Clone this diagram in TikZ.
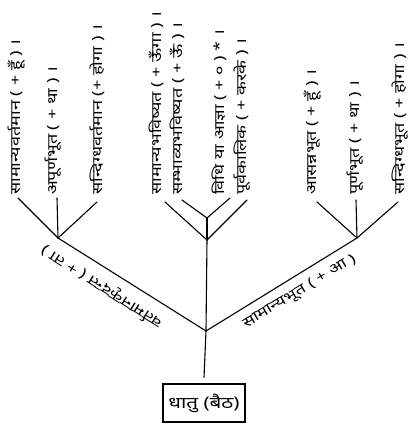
\documentclass[tikz,border=0pt]{standalone}
\usepackage{fontspec}
\newfontfamily\dev[Script=Devanagari, FakeStretch=1.29]{Noto Sans}
\begin{document}
\begin{tikzpicture}[x=1pt,y=-1pt,
  ln/.style={line width=1.1pt, line cap=round},
  vlab/.style={font=\dev\fontsize{14}{16}\selectfont, rotate=90, anchor=west, inner sep=0pt},
  dlab/.style={font=\dev\fontsize{14}{16}\selectfont, inner sep=0pt},
  rootbox/.style={draw, line width=1.2pt, minimum width=82pt, minimum height=38pt, inner sep=0pt, font=\dev\fontsize{16}{18}\selectfont}]
\useasboundingbox (0,0) rectangle (412,424);
% junctions
\coordinate (R) at (206,331);
\coordinate (L) at (58,238);
\coordinate (M) at (207,240);
\coordinate (MI) at (207,218);
\coordinate (Rt) at (357,238);
% line ends
\coordinate (l1) at (18,198);
\coordinate (l2) at (57,198);
\coordinate (l3) at (97,202);
\coordinate (m1) at (165,202);
\coordinate (m2) at (182,200);
\coordinate (m3) at (230,198);
\coordinate (m4) at (247,200);
\coordinate (r1) at (317,202);
\coordinate (r2) at (356,200);
\coordinate (r3) at (398,202);
% root box
\node[rootbox] (box) at (204,403) {धातु (बैठ)};
% texts
\node[vlab] (tl1) at (17,195) {सामान्यवर्तमान ( + हूँ ) ।};
\node[vlab] (tl2) at (53,195) {अपूर्णभूत ( + था ) ।};
\node[vlab] (tl3) at (97,195) {सन्दिग्धवर्तमान (+ होगा ) ।};
\node[vlab] (tm1) at (156,195) {सामान्यभविष्यत ( + ऊँगा ) ।};
\node[vlab] (tm2) at (177,195) {सम्भाव्यभविष्यत ( + ऊँ ) ।};
\node[vlab] (tm3) at (219,195) {विधि या आज्ञा ( + ० ) * ।};
\node[vlab] (tm4) at (242,195) {पूर्वकालिक ( + करके ) ।};
\node[vlab] (tr1) at (313,195) {आसन्नभूत ( + हूँ ) ।};
\node[vlab] (tr2) at (355,195) {पूर्णभूत ( + था ) ।};
\node[vlab] (tr3) at (400,195) {सन्दिग्धभूत ( + होगा ) ।};
% diagonal labels
\node[dlab, rotate=147.6] (dl) at (102,287) {वर्तमानकृदन्त ( + ता )};
\node[dlab, rotate=31] (dr) at (300,292) {सामान्यभूत ( + आ )};
% connectors
\path (box.north) ++(0,-6) coordinate (bt);
\draw[ln] (bt) -- (R);
\draw[ln] (R) -- (L);
\draw[ln] (R) -- (M);
\draw[ln] (R) -- (Rt);
\draw[ln] (L) -- (l1);
\draw[ln] (L) -- (l2);
\draw[ln] (L) -- (l3);
\draw[ln] (M) -- (m1);
\draw[ln] (M) -- (m4);
\draw[ln] (M) -- (MI);
\draw[ln] (MI) -- (m2);
\draw[ln] (MI) -- (m3);
\draw[ln] (Rt) -- (r1);
\draw[ln] (Rt) -- (r2);
\draw[ln] (Rt) -- (r3);
\end{tikzpicture}
\end{document}
